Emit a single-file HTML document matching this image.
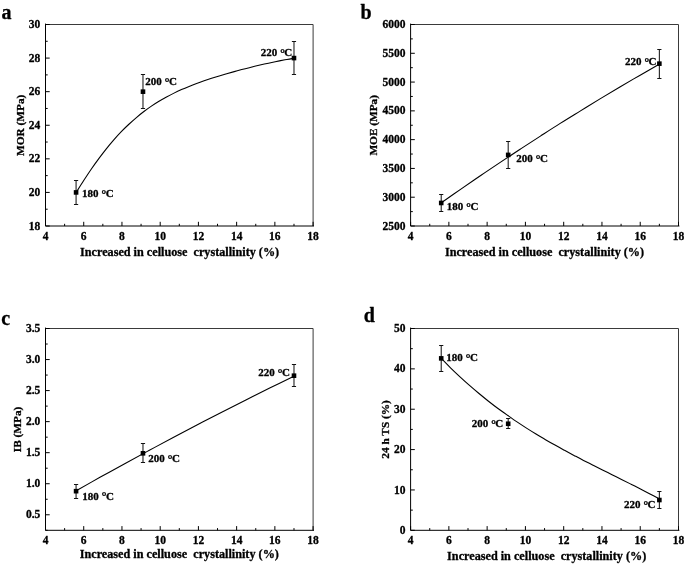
<!DOCTYPE html>
<html lang="en"><head><meta charset="utf-8"><title>Figure</title>
<style>
html,body{margin:0;padding:0;background:#fff;}
body{width:685px;height:564px;overflow:hidden;}
svg{display:block;}
svg text{font-family:"Liberation Serif", "DejaVu Serif", serif;font-weight:bold;fill:#000;stroke:#000;stroke-width:0.3px;stroke-linejoin:round;}
</style></head><body>
<svg width="685" height="564" viewBox="0 0 685 564">
<rect width="685" height="564" fill="#fff"/>
<path d="M45.5 24.5H313.1V226" fill="none" stroke="#3a3a3a" stroke-width="1.0"/>
<path d="M45.5 24.1V226H313.5" fill="none" stroke="#000" stroke-width="1" stroke-linecap="square"/>
<path d="M45.5 226v-4.2M64.61 226v-2.2M83.73 226v-4.2M102.84 226v-2.2M121.96 226v-4.2M141.07 226v-2.2M160.19 226v-4.2M179.3 226v-2.2M198.41 226v-4.2M217.53 226v-2.2M236.64 226v-4.2M255.76 226v-2.2M274.87 226v-4.2M293.99 226v-2.2M313.1 226v-4.2M45.5 226h4.2M45.5 209.21h2.2M45.5 192.42h4.2M45.5 175.62h2.2M45.5 158.83h4.2M45.5 142.04h2.2M45.5 125.25h4.2M45.5 108.46h2.2M45.5 91.67h4.2M45.5 74.88h2.2M45.5 58.08h4.2M45.5 41.29h2.2M45.5 24.5h4.2" fill="none" stroke="#000" stroke-width="1.0"/>
<text x="45.5" y="239.6" text-anchor="middle" font-size="11.5">4</text>
<text x="83.73" y="239.6" text-anchor="middle" font-size="11.5">6</text>
<text x="121.96" y="239.6" text-anchor="middle" font-size="11.5">8</text>
<text x="160.19" y="239.6" text-anchor="middle" font-size="11.5">10</text>
<text x="198.41" y="239.6" text-anchor="middle" font-size="11.5">12</text>
<text x="236.64" y="239.6" text-anchor="middle" font-size="11.5">14</text>
<text x="274.87" y="239.6" text-anchor="middle" font-size="11.5">16</text>
<text x="313.1" y="239.6" text-anchor="middle" font-size="11.5">18</text>
<text x="40.3" y="229.6" text-anchor="end" font-size="11.5">18</text>
<text x="40.3" y="196.02" text-anchor="end" font-size="11.5">20</text>
<text x="40.3" y="162.43" text-anchor="end" font-size="11.5">22</text>
<text x="40.3" y="128.85" text-anchor="end" font-size="11.5">24</text>
<text x="40.3" y="95.27" text-anchor="end" font-size="11.5">26</text>
<text x="40.3" y="61.68" text-anchor="end" font-size="11.5">28</text>
<text x="40.3" y="28.1" text-anchor="end" font-size="11.5">30</text>
<text x="179.6" y="256.1" text-anchor="middle" font-size="12.2" style="white-space:pre">Increased in celluose  crystallinity (%)</text>
<text transform="translate(24.3 125.3) rotate(-90)" text-anchor="middle" font-size="11.3">MOR (MPa)</text>
<text x="1.5" y="18.8" font-size="20">a</text>
<path d="M76.2 192.44C77.45 190.46 81.2 184.43 83.7 180.56C86.2 176.69 88.68 172.88 91.2 169.22C93.72 165.56 96.28 162 98.8 158.6C101.32 155.19 103.8 151.92 106.3 148.79C108.8 145.66 111.3 142.68 113.8 139.82C116.3 136.96 118.78 134.24 121.3 131.64C123.82 129.04 126.38 126.59 128.9 124.24C131.42 121.89 133.9 119.66 136.4 117.55C138.9 115.44 141.4 113.45 143.9 111.55C146.4 109.65 148.88 107.86 151.4 106.16C153.92 104.46 156.48 102.86 159 101.34C161.52 99.82 164 98.39 166.5 97.02C169 95.65 171.5 94.36 174 93.13C176.5 91.89 178.98 90.73 181.5 89.61C184.02 88.49 186.58 87.43 189.1 86.41C191.62 85.39 194.1 84.43 196.6 83.49C199.1 82.55 201.6 81.66 204.1 80.79C206.6 79.92 209.08 79.09 211.6 78.28C214.12 77.47 216.68 76.69 219.2 75.93C221.72 75.17 224.2 74.43 226.7 73.71C229.2 72.99 231.7 72.29 234.2 71.6C236.7 70.91 239.18 70.25 241.7 69.59C244.22 68.94 246.78 68.3 249.3 67.67C251.82 67.04 254.3 66.43 256.8 65.83C259.3 65.23 261.8 64.65 264.3 64.08C266.8 63.51 269.28 62.95 271.8 62.42C274.32 61.89 276.88 61.36 279.4 60.87C281.92 60.38 284.4 59.9 286.9 59.45C289.4 59 293.15 58.39 294.4 58.18" fill="none" stroke="#000" stroke-width="1.1"/>
<path d="M76.08 180.66V204.17" fill="none" stroke="#161616" stroke-width="1.05"/>
<path d="M73.98 180.5h4.2M73.98 204.5h4.2" fill="none" stroke="#111" stroke-width="1.0"/>
<rect x="73.78" y="190.12" width="4.6" height="4.6" fill="#000"/>
<text x="82" y="196.9" font-size="11" style="white-space:pre">180 <tspan font-size="11.5" stroke-width="0.4" dx="0.3" dy="0.8">°</tspan><tspan dx="-0.5" dy="-0.8">C</tspan></text>
<path d="M142.98 74.88V108.46" fill="none" stroke="#161616" stroke-width="1.05"/>
<path d="M140.88 74.5h4.2M140.88 108.5h4.2" fill="none" stroke="#111" stroke-width="1.0"/>
<rect x="140.68" y="89.37" width="4.6" height="4.6" fill="#000"/>
<text x="145.3" y="84.95" font-size="11" style="white-space:pre">200 <tspan font-size="11.5" stroke-width="0.4" dx="0.3" dy="0.8">°</tspan><tspan dx="-0.5" dy="-0.8">C</tspan></text>
<path d="M293.99 41.29V74.88" fill="none" stroke="#161616" stroke-width="1.05"/>
<path d="M291.89 41.5h4.2M291.89 74.5h4.2" fill="none" stroke="#111" stroke-width="1.0"/>
<rect x="291.69" y="55.78" width="4.6" height="4.6" fill="#000"/>
<text x="260.7" y="55.8" font-size="11" style="white-space:pre">220 <tspan font-size="11.5" stroke-width="0.4" dx="0.3" dy="0.8">°</tspan><tspan dx="-0.5" dy="-0.8">C</tspan></text>
<path d="M410.6 24.5H678.5V226" fill="none" stroke="#3a3a3a" stroke-width="1.0"/>
<path d="M410.6 24.1V226H678.9" fill="none" stroke="#000" stroke-width="1" stroke-linecap="square"/>
<path d="M410.6 226v-4.2M429.74 226v-2.2M448.87 226v-4.2M468.01 226v-2.2M487.14 226v-4.2M506.28 226v-2.2M525.41 226v-4.2M544.55 226v-2.2M563.69 226v-4.2M582.82 226v-2.2M601.96 226v-4.2M621.09 226v-2.2M640.23 226v-4.2M659.36 226v-2.2M678.5 226v-4.2M410.6 226h4.2M410.6 211.61h2.2M410.6 197.21h4.2M410.6 182.82h2.2M410.6 168.43h4.2M410.6 154.04h2.2M410.6 139.64h4.2M410.6 125.25h2.2M410.6 110.86h4.2M410.6 96.46h2.2M410.6 82.07h4.2M410.6 67.68h2.2M410.6 53.29h4.2M410.6 38.89h2.2M410.6 24.5h4.2" fill="none" stroke="#000" stroke-width="1.0"/>
<text x="410.6" y="239.6" text-anchor="middle" font-size="11.5">4</text>
<text x="448.87" y="239.6" text-anchor="middle" font-size="11.5">6</text>
<text x="487.14" y="239.6" text-anchor="middle" font-size="11.5">8</text>
<text x="525.41" y="239.6" text-anchor="middle" font-size="11.5">10</text>
<text x="563.69" y="239.6" text-anchor="middle" font-size="11.5">12</text>
<text x="601.96" y="239.6" text-anchor="middle" font-size="11.5">14</text>
<text x="640.23" y="239.6" text-anchor="middle" font-size="11.5">16</text>
<text x="678.5" y="239.6" text-anchor="middle" font-size="11.5">18</text>
<text x="405.4" y="229.6" text-anchor="end" font-size="11.5">2500</text>
<text x="405.4" y="200.81" text-anchor="end" font-size="11.5">3000</text>
<text x="405.4" y="172.03" text-anchor="end" font-size="11.5">3500</text>
<text x="405.4" y="143.24" text-anchor="end" font-size="11.5">4000</text>
<text x="405.4" y="114.46" text-anchor="end" font-size="11.5">4500</text>
<text x="405.4" y="85.67" text-anchor="end" font-size="11.5">5000</text>
<text x="405.4" y="56.89" text-anchor="end" font-size="11.5">5500</text>
<text x="405.4" y="28.1" text-anchor="end" font-size="11.5">6000</text>
<text x="544.5" y="256.1" text-anchor="middle" font-size="12.2" style="white-space:pre">Increased in celluose  crystallinity (%)</text>
<text transform="translate(376.8 125.3) rotate(-90)" text-anchor="middle" font-size="11.3">MOE (MPa)</text>
<text x="360.4" y="18.8" font-size="20">b</text>
<path d="M441 203C444.32 200.68 454.28 193.68 460.9 189.1C467.52 184.52 474.08 180 480.7 175.5C487.32 171 493.97 166.52 500.6 162.1C507.23 157.68 513.87 153.33 520.5 149C527.13 144.67 533.78 140.37 540.4 136.1C547.02 131.83 553.58 127.57 560.2 123.4C566.82 119.23 573.47 115.18 580.1 111.1C586.73 107.02 593.37 102.92 600 98.9C606.63 94.88 613.28 90.92 619.9 87C626.52 83.08 633.08 79.23 639.7 75.4C646.32 71.57 656.28 65.9 659.6 64" fill="none" stroke="#000" stroke-width="1.1"/>
<path d="M441.22 194.05V211.9" fill="none" stroke="#161616" stroke-width="1.05"/>
<path d="M439.12 194.5h4.2M439.12 211.5h4.2" fill="none" stroke="#111" stroke-width="1.0"/>
<rect x="438.92" y="200.67" width="4.6" height="4.6" fill="#000"/>
<text x="446.8" y="210.1" font-size="11" style="white-space:pre">180 <tspan font-size="11.5" stroke-width="0.4" dx="0.3" dy="0.8">°</tspan><tspan dx="-0.5" dy="-0.8">C</tspan></text>
<path d="M508.19 141.2V168.6" fill="none" stroke="#161616" stroke-width="1.05"/>
<path d="M506.09 141.5h4.2M506.09 168.5h4.2" fill="none" stroke="#111" stroke-width="1.0"/>
<rect x="505.89" y="152.6" width="4.6" height="4.6" fill="#000"/>
<text x="516.3" y="162.4" font-size="11" style="white-space:pre">200 <tspan font-size="11.5" stroke-width="0.4" dx="0.3" dy="0.8">°</tspan><tspan dx="-0.5" dy="-0.8">C</tspan></text>
<path d="M659.36 49.26V78.04" fill="none" stroke="#161616" stroke-width="1.05"/>
<path d="M657.26 49.5h4.2M657.26 78.5h4.2" fill="none" stroke="#111" stroke-width="1.0"/>
<rect x="657.06" y="61.35" width="4.6" height="4.6" fill="#000"/>
<text x="624.9" y="64.8" font-size="11" style="white-space:pre">220 <tspan font-size="11.5" stroke-width="0.4" dx="0.3" dy="0.8">°</tspan><tspan dx="-0.5" dy="-0.8">C</tspan></text>
<path d="M45.5 328.5H313.1V530.3" fill="none" stroke="#3a3a3a" stroke-width="1.0"/>
<path d="M45.5 328.1V530.3H313.5" fill="none" stroke="#000" stroke-width="1" stroke-linecap="square"/>
<path d="M45.5 530.3v-4.2M64.61 530.3v-2.2M83.73 530.3v-4.2M102.84 530.3v-2.2M121.96 530.3v-4.2M141.07 530.3v-2.2M160.19 530.3v-4.2M179.3 530.3v-2.2M198.41 530.3v-4.2M217.53 530.3v-2.2M236.64 530.3v-4.2M255.76 530.3v-2.2M274.87 530.3v-4.2M293.99 530.3v-2.2M313.1 530.3v-4.2M45.5 530.3h2.2M45.5 514.78h4.2M45.5 499.25h2.2M45.5 483.73h4.2M45.5 468.21h2.2M45.5 452.68h4.2M45.5 437.16h2.2M45.5 421.64h4.2M45.5 406.12h2.2M45.5 390.59h4.2M45.5 375.07h2.2M45.5 359.55h4.2M45.5 344.02h2.2M45.5 328.5h4.2" fill="none" stroke="#000" stroke-width="1.0"/>
<text x="45.5" y="543.9" text-anchor="middle" font-size="11.5">4</text>
<text x="83.73" y="543.9" text-anchor="middle" font-size="11.5">6</text>
<text x="121.96" y="543.9" text-anchor="middle" font-size="11.5">8</text>
<text x="160.19" y="543.9" text-anchor="middle" font-size="11.5">10</text>
<text x="198.41" y="543.9" text-anchor="middle" font-size="11.5">12</text>
<text x="236.64" y="543.9" text-anchor="middle" font-size="11.5">14</text>
<text x="274.87" y="543.9" text-anchor="middle" font-size="11.5">16</text>
<text x="313.1" y="543.9" text-anchor="middle" font-size="11.5">18</text>
<text x="40.3" y="518.38" text-anchor="end" font-size="11.5">0.5</text>
<text x="40.3" y="487.33" text-anchor="end" font-size="11.5">1.0</text>
<text x="40.3" y="456.28" text-anchor="end" font-size="11.5">1.5</text>
<text x="40.3" y="425.24" text-anchor="end" font-size="11.5">2.0</text>
<text x="40.3" y="394.19" text-anchor="end" font-size="11.5">2.5</text>
<text x="40.3" y="363.15" text-anchor="end" font-size="11.5">3.0</text>
<text x="40.3" y="332.1" text-anchor="end" font-size="11.5">3.5</text>
<text x="179.3" y="558" text-anchor="middle" font-size="12.2" style="white-space:pre">Increased in celluose  crystallinity (%)</text>
<text transform="translate(20.9 429.4) rotate(-90)" text-anchor="middle" font-size="11.3">IB (MPa)</text>
<text x="1.2" y="324.6" font-size="20">c</text>
<path d="M76.2 490.7C80.23 488.43 92.32 481.6 100.4 477.1C108.48 472.6 116.62 468.13 124.7 463.7C132.78 459.27 140.82 454.85 148.9 450.5C156.98 446.15 165.12 441.88 173.2 437.6C181.28 433.32 189.32 429.02 197.4 424.8C205.48 420.58 213.62 416.45 221.7 412.3C229.78 408.15 237.82 403.98 245.9 399.9C253.98 395.82 262.12 391.8 270.2 387.8C278.28 383.8 290.37 377.88 294.4 375.9" fill="none" stroke="#000" stroke-width="1.1"/>
<path d="M76.08 484.35V498.01" fill="none" stroke="#161616" stroke-width="1.05"/>
<path d="M73.98 484.5h4.2M73.98 498.5h4.2" fill="none" stroke="#111" stroke-width="1.0"/>
<rect x="73.78" y="488.88" width="4.6" height="4.6" fill="#000"/>
<text x="82.3" y="499.65" font-size="11" style="white-space:pre">180 <tspan font-size="11.5" stroke-width="0.4" dx="0.3" dy="0.8">°</tspan><tspan dx="-0.5" dy="-0.8">C</tspan></text>
<path d="M142.98 443.99V462.62" fill="none" stroke="#161616" stroke-width="1.05"/>
<path d="M140.88 443.5h4.2M140.88 462.5h4.2" fill="none" stroke="#111" stroke-width="1.0"/>
<rect x="140.68" y="451.01" width="4.6" height="4.6" fill="#000"/>
<text x="148.3" y="461.7" font-size="11" style="white-space:pre">200 <tspan font-size="11.5" stroke-width="0.4" dx="0.3" dy="0.8">°</tspan><tspan dx="-0.5" dy="-0.8">C</tspan></text>
<path d="M293.99 364.51V386.87" fill="none" stroke="#161616" stroke-width="1.05"/>
<path d="M291.89 364.5h4.2M291.89 386.5h4.2" fill="none" stroke="#111" stroke-width="1.0"/>
<rect x="291.69" y="373.39" width="4.6" height="4.6" fill="#000"/>
<text x="258.3" y="376" font-size="11" style="white-space:pre">220 <tspan font-size="11.5" stroke-width="0.4" dx="0.3" dy="0.8">°</tspan><tspan dx="-0.5" dy="-0.8">C</tspan></text>
<path d="M410.6 328.5H678.5V530.3" fill="none" stroke="#3a3a3a" stroke-width="1.0"/>
<path d="M410.6 328.1V530.3H678.9" fill="none" stroke="#000" stroke-width="1" stroke-linecap="square"/>
<path d="M410.6 530.3v-4.2M429.74 530.3v-2.2M448.87 530.3v-4.2M468.01 530.3v-2.2M487.14 530.3v-4.2M506.28 530.3v-2.2M525.41 530.3v-4.2M544.55 530.3v-2.2M563.69 530.3v-4.2M582.82 530.3v-2.2M601.96 530.3v-4.2M621.09 530.3v-2.2M640.23 530.3v-4.2M659.36 530.3v-2.2M678.5 530.3v-4.2M410.6 530.3h4.2M410.6 510.12h2.2M410.6 489.94h4.2M410.6 469.76h2.2M410.6 449.58h4.2M410.6 429.4h2.2M410.6 409.22h4.2M410.6 389.04h2.2M410.6 368.86h4.2M410.6 348.68h2.2M410.6 328.5h4.2" fill="none" stroke="#000" stroke-width="1.0"/>
<text x="410.6" y="543.9" text-anchor="middle" font-size="11.5">4</text>
<text x="448.87" y="543.9" text-anchor="middle" font-size="11.5">6</text>
<text x="487.14" y="543.9" text-anchor="middle" font-size="11.5">8</text>
<text x="525.41" y="543.9" text-anchor="middle" font-size="11.5">10</text>
<text x="563.69" y="543.9" text-anchor="middle" font-size="11.5">12</text>
<text x="601.96" y="543.9" text-anchor="middle" font-size="11.5">14</text>
<text x="640.23" y="543.9" text-anchor="middle" font-size="11.5">16</text>
<text x="678.5" y="543.9" text-anchor="middle" font-size="11.5">18</text>
<text x="405.4" y="533.9" text-anchor="end" font-size="11.5">0</text>
<text x="405.4" y="493.54" text-anchor="end" font-size="11.5">10</text>
<text x="405.4" y="453.18" text-anchor="end" font-size="11.5">20</text>
<text x="405.4" y="412.82" text-anchor="end" font-size="11.5">30</text>
<text x="405.4" y="372.46" text-anchor="end" font-size="11.5">40</text>
<text x="405.4" y="332.1" text-anchor="end" font-size="11.5">50</text>
<text x="546.7" y="560.3" text-anchor="middle" font-size="12.2" style="white-space:pre">Increased in celluose  crystallinity (%)</text>
<text transform="translate(389 429.4) rotate(-90)" text-anchor="middle" font-size="11.3">24 h TS (%)</text>
<text x="363.7" y="322.1" font-size="20">d</text>
<path d="M441 358.1C442.58 359.72 447.33 364.68 450.5 367.8C453.67 370.92 456.83 373.87 460 376.8C463.17 379.73 466.33 382.62 469.5 385.4C472.67 388.18 475.83 390.87 479 393.5C482.17 396.13 485.33 398.7 488.5 401.2C491.67 403.7 494.83 406.15 498 408.5C501.17 410.85 504.33 413.07 507.5 415.3C510.67 417.53 513.83 419.77 517 421.9C520.17 424.03 523.33 426.08 526.5 428.1C529.67 430.12 532.83 432.07 536 434C539.17 435.93 542.33 437.85 545.5 439.7C548.67 441.55 551.83 443.33 555 445.1C558.17 446.87 561.33 448.58 564.5 450.3C567.67 452.02 570.83 453.72 574 455.4C577.17 457.08 580.33 458.77 583.5 460.4C586.67 462.03 589.83 463.6 593 465.2C596.17 466.8 599.33 468.42 602.5 470C605.67 471.58 608.83 473.13 612 474.7C615.17 476.27 618.33 477.82 621.5 479.4C624.67 480.98 627.83 482.6 631 484.2C634.17 485.8 637.33 487.38 640.5 489C643.67 490.62 646.83 492.25 650 493.9C653.17 495.55 657.92 498.07 659.5 498.9" fill="none" stroke="#000" stroke-width="1.1"/>
<path d="M441.22 345.45V371.28" fill="none" stroke="#161616" stroke-width="1.05"/>
<path d="M439.12 345.5h4.2M439.12 371.5h4.2" fill="none" stroke="#111" stroke-width="1.0"/>
<rect x="438.92" y="356.07" width="4.6" height="4.6" fill="#000"/>
<text x="446.3" y="360.7" font-size="11" style="white-space:pre">180 <tspan font-size="11.5" stroke-width="0.4" dx="0.3" dy="0.8">°</tspan><tspan dx="-0.5" dy="-0.8">C</tspan></text>
<path d="M508.19 418.91V428.59" fill="none" stroke="#161616" stroke-width="1.05"/>
<path d="M506.09 418.5h4.2M506.09 428.5h4.2" fill="none" stroke="#111" stroke-width="1.0"/>
<rect x="505.89" y="421.45" width="4.6" height="4.6" fill="#000"/>
<text x="471.7" y="426.7" font-size="11" style="white-space:pre">200 <tspan font-size="11.5" stroke-width="0.4" dx="0.3" dy="0.8">°</tspan><tspan dx="-0.5" dy="-0.8">C</tspan></text>
<path d="M659.36 491.55V508.51" fill="none" stroke="#161616" stroke-width="1.05"/>
<path d="M657.26 491.5h4.2M657.26 508.5h4.2" fill="none" stroke="#111" stroke-width="1.0"/>
<rect x="657.06" y="497.73" width="4.6" height="4.6" fill="#000"/>
<text x="623.9" y="507.9" font-size="11" style="white-space:pre">220 <tspan font-size="11.5" stroke-width="0.4" dx="0.3" dy="0.8">°</tspan><tspan dx="-0.5" dy="-0.8">C</tspan></text>
</svg>
</body></html>
